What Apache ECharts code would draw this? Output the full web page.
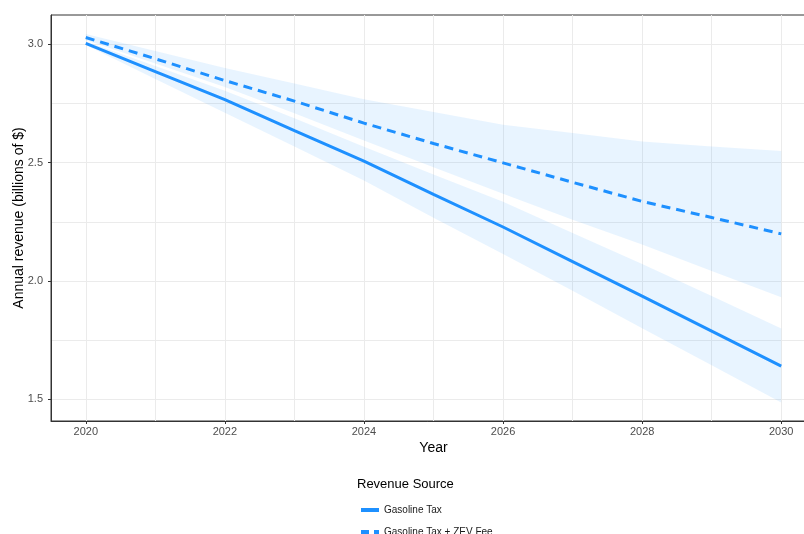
<!DOCTYPE html>
<html><head><meta charset="utf-8">
<script src="https://cdn.jsdelivr.net/npm/echarts@6/dist/echarts.min.js"></script>
<style>html,body{margin:0;padding:0;background:#fff}#c{width:804px;height:534px}</style>
</head><body><div id="c"></div>
<script>
const years = [2020, 2021, 2022, 2023, 2024, 2025, 2026, 2027, 2028, 2029, 2030];
const gasTax     = [3.004, 2.885, 2.766, 2.635, 2.506, 2.366, 2.228, 2.082, 1.936, 1.788, 1.640];
const gasTaxLow  = [2.997, 2.854, 2.711, 2.568, 2.424, 2.267, 2.114, 1.958, 1.800, 1.644, 1.486];
const gasTaxHigh = [3.012, 2.908, 2.804, 2.688, 2.567, 2.450, 2.335, 2.203, 2.072, 1.936, 1.799];
const zevFee     = [3.029, 2.939, 2.847, 2.760, 2.667, 2.581, 2.499, 2.417, 2.336, 2.268, 2.199];
const zevFeeLow  = [3.018, 2.919, 2.820, 2.709, 2.594, 2.480, 2.368, 2.259, 2.154, 2.042, 1.931];
const zevFeeHigh = [3.044, 2.972, 2.900, 2.834, 2.768, 2.714, 2.660, 2.625, 2.589, 2.568, 2.549];
const xTicks = [2020, 2022, 2024, 2026, 2028, 2030];
const xMinor = [2021, 2023, 2025, 2027, 2029];
const yTicks = [1.5, 2.0, 2.5, 3.0];
const yMinor = [1.75, 2.25, 2.75];
const seriesNames = ['Gasoline Tax', 'Gasoline Tax + ZEV Fee'];

const BLUE = '#1E90FF';
const FONT = '"Liberation Sans", Arial, sans-serif';
const pairs = a => years.map((y, i) => [y, a[i]]);
const triples = (lo, hi) => years.map((y, i) => [y, lo[i], hi[i]]);

function bandRenderer(lo, hi) {
  return function (params, api) {
    if (params.dataIndex !== 0) return null;
    const pts = [];
    for (let i = 0; i < years.length; i++) pts.push(api.coord([years[i], hi[i]]));
    for (let i = years.length - 1; i >= 0; i--) pts.push(api.coord([years[i], lo[i]]));
    return {type: 'polygon', shape: {points: pts}, style: {fill: BLUE, opacity: 0.1}};
  };
}

const gridLines = [].concat(
  xTicks.concat(xMinor).map(v => ({xAxis: v})),
  yTicks.concat(yMinor).map(v => ({yAxis: v}))
);

const chart = echarts.init(document.getElementById('c'), null, {renderer: 'canvas'});
chart.setOption({
  animation: false,
  backgroundColor: '#ffffff',
  textStyle: {fontFamily: FONT},
  title: {
    text: 'Revenue Source', left: 352, top: 473,
    textStyle: {fontSize: 13, fontWeight: 'normal', color: '#000', fontFamily: FONT}
  },
  legend: {
    data: [
      {name: seriesNames[0], icon: 'path://M0,0H18V4H0Z', itemStyle: {color: BLUE}},
      {name: seriesNames[1], icon: 'path://M0,0H8V4H0Z M13,0H18V4H13Z', itemStyle: {color: BLUE}}
    ],
    orient: 'vertical', left: 361, top: 505, height: 60, padding: 0,
    itemWidth: 18, itemHeight: 4, itemGap: 12,
    textStyle: {fontSize: 10, color: '#1a1a1a', fontFamily: FONT}
  },
  grid: {left: 51, right: -12, top: 15, bottom: 113, show: true, borderColor: '#333333', borderWidth: 1,
    backgroundColor: 'transparent', containLabel: false, outerBoundsMode: 'none'},
  xAxis: {
    type: 'value', min: 2019.5, max: 2030.5,
    name: 'Year', nameLocation: 'middle', nameGap: 20, nameMoveOverlap: false,
    nameTextStyle: {fontSize: 14, color: '#000'},
    axisLine: {show: true, lineStyle: {color: '#333333', width: 1}},
    axisTick: {show: true, length: 3, lineStyle: {color: '#333333'}, customValues: xTicks},
    axisLabel: {fontSize: 11, color: '#4d4d4d', margin: 5, customValues: xTicks, formatter: v => String(v)},
    splitLine: {show: false}
  },
  yAxis: {
    type: 'value', min: 1.408, max: 3.124,
    name: 'Annual revenue (billions of $)', nameLocation: 'middle', nameGap: 25, nameMoveOverlap: false,
    nameTextStyle: {fontSize: 14, color: '#000'},
    axisLine: {show: true, lineStyle: {color: '#333333', width: 1}},
    axisTick: {show: true, length: 3, lineStyle: {color: '#333333'}, customValues: yTicks},
    axisLabel: {fontSize: 11, color: '#4d4d4d', margin: 8, customValues: yTicks, formatter: v => v.toFixed(1)},
    splitLine: {show: false}
  },
  series: [
    {
      type: 'line', name: 'grid', data: [], z: 0, silent: true,
      markLine: {silent: true, z: 0, symbol: ['none', 'none'], label: {show: false}, animation: false,
        lineStyle: {color: '#ebebeb', type: 'solid', width: 1}, data: gridLines}
    },
    {type: 'custom', name: 'gasBand', data: triples(gasTaxLow, gasTaxHigh), encode: {x: 0, y: [1, 2]},
      renderItem: bandRenderer(gasTaxLow, gasTaxHigh), z: 1, silent: true},
    {type: 'custom', name: 'zevBand', data: triples(zevFeeLow, zevFeeHigh), encode: {x: 0, y: [1, 2]},
      renderItem: bandRenderer(zevFeeLow, zevFeeHigh), z: 1, silent: true},
    {type: 'line', name: seriesNames[0], data: pairs(gasTax), symbol: 'none', color: BLUE,
      lineStyle: {color: BLUE, width: 3, type: 'solid'}, z: 3},
    {type: 'line', name: seriesNames[1], data: pairs(zevFee), symbol: 'none', color: BLUE,
      lineStyle: {color: BLUE, width: 3, type: [9, 6]}, z: 3}
  ]
});
</script></body></html>
